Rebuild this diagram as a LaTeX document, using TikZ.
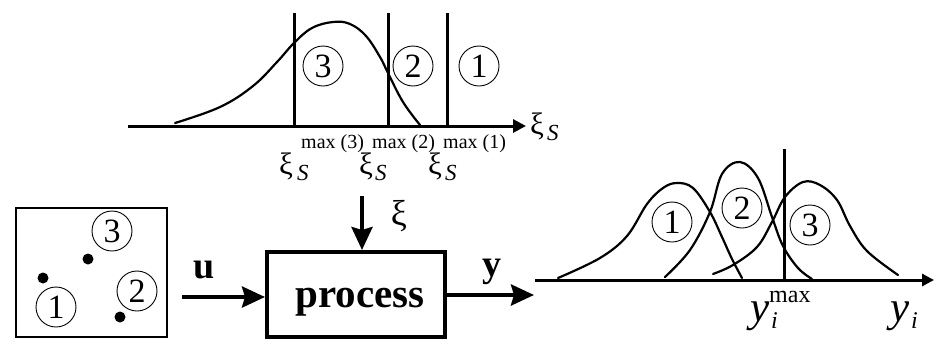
\documentclass[tikz,border=0pt]{standalone}
\usepackage{fontspec}
\setmainfont{Liberation Serif}
\usetikzlibrary{arrows.meta}
\begin{document}
\begin{tikzpicture}[x=1pt,y=-1pt,
  axis/.style={line width=3pt, -{Triangle[length=13pt,width=13pt]}},
  bigarrow/.style={line width=4pt, -{Stealth[length=23pt,width=21pt,inset=3pt]}},
  vline/.style={line width=3pt},
  curve/.style={line width=2.2pt, line join=round, line cap=round},
  num/.style={draw, circle, line width=0.9pt, minimum size=40pt, inner sep=0pt, font=\fontsize{34}{34}\selectfont},
  blob/.style={circle, fill, minimum size=11pt, inner sep=0pt},
  lbl/.style={inner sep=0pt, anchor=base west},
  xifont/.style={font=\fontsize{31}{31}\selectfont},
  sfont/.style={font=\fontsize{23}{23}\selectfont\itshape},
  maxfont/.style={font=\fontsize{20}{20}\selectfont},
  boldfont/.style={font=\fontsize{38}{38}\selectfont\bfseries},
  yfont/.style={font=\fontsize{43}{43}\selectfont\itshape},
  ifont/.style={font=\fontsize{24}{24}\selectfont\itshape},
  maxbig/.style={font=\fontsize{24}{24}\selectfont},
]
\useasboundingbox (0,0) rectangle (938,346);

% ---------- top graph ----------
\coordinate (ta0) at (128,126);
\coordinate (ta1) at (526,126);
\draw[axis] (ta0) -- (ta1);
\coordinate (v3t) at (294,13);
\coordinate (v2t) at (388,13);
\coordinate (v1t) at (447,13);
\draw[vline] (v3t) -- (v3t |- ta0);
\draw[vline] (v2t) -- (v2t |- ta0);
\draw[vline] (v1t) -- (v1t |- ta0);
\draw[curve] plot[smooth, tension=0.65] coordinates {(175,123) (220,107) (253,86) (277,62) (294,43) (312,28) (333,22) (350,24) (366,36) (380,57) (388,73) (403,102) (420,125)};
\node[num] (c3t) at (323,66) {3};
\node[num] (c2t) at (413,66) {2};
\node[num] (c1t) at (479,66) {1};

\node[lbl, xifont] (xs3) at (279,174) {ξ};
\node[lbl, sfont] (s3) at (297,180) {S};
\node[lbl, maxfont] (m3) at (301,148) {max (3)};
\node[lbl, xifont] (xs2) at (359,174) {ξ};
\node[lbl, sfont] (s2) at (375,180) {S};
\node[lbl, maxfont] (m2) at (372,148) {max (2)};
\node[lbl, xifont] (xs1) at (428,174) {ξ};
\node[lbl, sfont] (s1) at (445,180) {S};
\node[lbl, maxfont] (m1) at (443,148) {max (1)};
\node[lbl, xifont] (xsa) at (530,134) {ξ};
\node[lbl, sfont] (sa) at (547,140) {S};

% ---------- left box ----------
\node[draw, line width=1.2pt, minimum width=151pt, minimum height=129pt, inner sep=0pt] (sbox) at (91.5,272.5) {};
\node[blob] (d1) at (43,278) {};
\node[blob] (d3) at (88,259) {};
\node[blob] (d2) at (120,317) {};
\node[num] (c1b) at (56,307) {1};
\node[num] (c2b) at (137,291) {2};
\node[num] (c3b) at (112,231) {3};

% ---------- process ----------
\node[draw, line width=4pt, minimum width=178pt, minimum height=85pt, inner sep=0pt] (proc) at (356,294.5) {};
\node[anchor=base, inner sep=0pt, font=\fontsize{41}{41}\selectfont\bfseries] (proctext) at (360,307) {process};
\coordinate (uin) at (182,297);
\draw[bigarrow] (uin) -- (uin -| proc.west);
\node[anchor=base, inner sep=0pt, boldfont] (ulab) at (204,278) {u};
\coordinate (xiin) at (362,196);
\draw[bigarrow] (xiin) -- (xiin |- proc.north);
\node[anchor=center, inner sep=0pt, font=\fontsize{36}{36}\selectfont] (xilab) at (399,216) {ξ};
\coordinate (yout) at (534,295);
\draw[bigarrow] (proc.east |- yout) -- (yout);
\node[anchor=base, inner sep=0pt, boldfont] (ylab) at (492,276) {y};

% ---------- right graph ----------
\coordinate (ra0) at (535,280);
\coordinate (ra1) at (934,280);
\draw[line width=3pt, -{Triangle[length=12pt,width=12pt]}] (ra0) -- (ra1);
\coordinate (vmax) at (784,149);
\draw[vline] (vmax) -- (vmax |- ra0);
\draw[curve] plot[smooth, tension=0.6] coordinates {(558,278) (600,258) (627,236) (647,204) (663,188) (677,183) (693,188) (710,212) (722,237) (732,259) (742,278)};
\draw[curve] plot[smooth, tension=0.6] coordinates {(665,277) (690,250) (710,212) (722,174) (740,162) (758,178) (772,217) (783,246) (798,268) (812,279)};
\draw[curve] plot[smooth, tension=0.6] coordinates {(713,274) (733,265) (757,247) (772,222) (785,197) (803,182) (820,185) (837,200) (850,226) (867,251) (898,275)};
\node[num] (c1r) at (672,222) {1};
\node[num] (c2r) at (742,208) {2};
\node[num] (c3r) at (810,225) {3};

\node[lbl, yfont] (ymx) at (750,321) {y};
\node[lbl, ifont] (imx) at (771,328) {i};
\node[lbl, maxbig] (mmx) at (769,302) {max};
\node[lbl, yfont] (yax) at (890,321) {y};
\node[lbl, ifont] (iax) at (911,328) {i};
\end{tikzpicture}
\end{document}
